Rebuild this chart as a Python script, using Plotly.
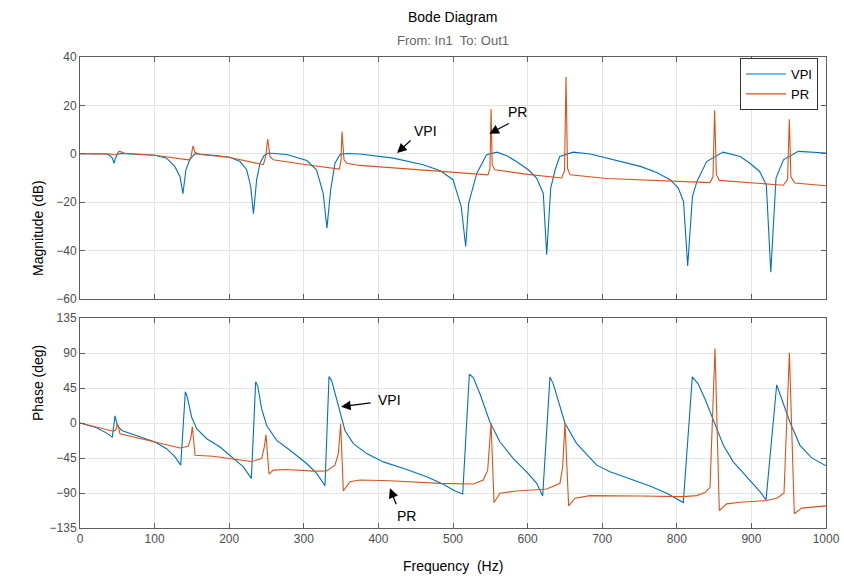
import plotly.graph_objects as go
from plotly.subplots import make_subplots

# ---------------- data ----------------
# (frequency Hz, magnitude dB)
vpi_mag = [(0, 0), (36, -0.1), (40, -0.7), (43.3, -1.8), (45.6, -3.9), (47.4, -1.8), (50, -0.3), (54, 0.1),
           (100, -0.6), (116, -1.8), (127, -5.2), (134, -9.4), (138, -16.5), (142, -6.6), (147.5, -2.2), (154, 0),
           (179, -0.6), (201, -1.4), (214.5, -3.2), (223.4, -6.6), (228.8, -13.5), (232.5, -24.8), (236.8, -10.7),
           (241.3, -3.9), (246.6, -0.8), (252.5, 0.3), (277, -0.3), (304, -2.8), (317, -6.6), (326, -16.3),
           (331, -30.7), (336, -14.9), (341.8, -3.9), (348.5, -0.3), (357.5, 0.1), (375, -0.1), (420, -1.8),
           (460, -4.5), (483, -7.0), (500, -10.7), (511, -21.8), (517, -38.3), (521, -20.4), (532, -8),
           (545, -0.4), (559, 0.7), (572, -0.8), (585, -3.2), (601, -6.6), (612, -10), (621, -16.3),
           (625.6, -41.7), (631, -14.2), (637, -6.6), (643, -1.1), (661, 0.7), (684, -0.1), (706, -1.8),
           (751, -5.2), (773, -7.7), (791, -10.7), (802, -14.2), (809, -19.7), (814.6, -46.3), (821, -17.6),
           (827, -11.4), (840, -3.2), (862, 0.7), (885, -1.1), (898, -3.9), (911, -7.3), (920, -12.8),
           (926, -48.9), (933, -10), (943, -2.5), (963, 1.0), (1000, 0.3)]

pr_mag = [(0, 0), (40, -0.1), (47, -0.5), (49.2, -0.3), (52.3, 1.1), (55.9, 0.6), (60, 0.2), (100.5, -0.6),
          (145.2, -2.5), (148.3, -2.0), (151.5, 3.3), (154.2, 0.6), (160.9, -0.3), (201, -1.5), (245.8, -4.5),
          (248.9, -1.1), (251.6, 6.1), (254.7, -1.1), (259, -2.5), (303.8, -4.5), (347.6, -6.3), (349.9, -2.5),
          (351.2, 9.2), (353.9, -2.5), (357.5, -3.9), (375, -4.8), (420, -5.8), (483, -7.0), (509, -7.7),
          (547, -8.7), (549.5, -6), (551, 18.5), (552.5, -4.5), (556, -6.6), (600, -8.5), (645.7, -10),
          (649.5, -7), (651.5, 31.8), (653.5, -6), (657, -8.7), (706, -10.2), (844.5, -11.9), (848.5, -9.5),
          (850.7, 17.9), (853, -8.5), (857, -11), (942.8, -13), (948.5, -10.5), (950.8, 14.3), (953, -9.5),
          (958, -12.1), (1000, -13.2)]

# (frequency Hz, phase deg)
vpi_phase = [(0, 0), (22.3, -6.2), (35.7, -13), (43.3, -18.1), (46.9, 9.1), (50, -3.2), (55.9, -9.6), (71.5, -14.7),
             (100.5, -24.5), (116, -33), (127.3, -43.6), (135, -54.2), (141.2, 40.2), (143.9, 32.9), (149.7, 7.4),
             (156.4, -7.4), (169.8, -20.2), (187.7, -30.9), (205.5, -44.9), (219, -56.4), (229.7, -71.2),
             (235.5, 52.9), (238.2, 47.8), (243.5, 18.1), (250.2, -3.2), (263.6, -22.3), (281.5, -35.1),
             (303.8, -52.1), (317.2, -64.8), (328.4, -80.6), (333.8, 59.7), (337.4, 54.2), (344, 30.8),
             (350.8, 7.4), (355.2, -9.6), (366.4, -26.5), (384.3, -39.3), (406.6, -50), (437.9, -59.7),
             (464.7, -69.1), (487, -78.8), (502.7, -87.4), (513, -91.2), (521.9, 62.7), (527.2, 58.4),
             (536.2, 37.2), (549.6, 1), (563, -24.5), (580.8, -45.7), (598.7, -62.8), (612.2, -77.6),
             (620.2, -93.8), (630, 59.3), (634.5, 50), (650.1, -0.3), (665.8, -26.5), (683.6, -45.7),
             (692.6, -54.2), (710.5, -62.8), (737.3, -72.1), (764, -81), (786.5, -90.3), (808.7, -102.3),
             (820.8, 59.3), (828.8, 50), (837.8, 30.8), (849, 3.2), (862.4, -28.7), (875.7, -50), (893.7, -69.1),
             (911.5, -88.3), (919.6, -98.9), (933.9, 49.1), (940.6, 30.8), (951.7, 1), (965.1, -28.7),
             (980.8, -44.9), (1000, -55.1)]

pr_phase = [(0, 0), (22.3, -5.5), (44.7, -10.5), (47.8, -9), (50.5, -1), (53.6, -13.8), (71.5, -18.1), (100.5, -24.5),
            (134, -32.1), (145.2, -30), (148.8, -18.1), (150.6, -4.5), (154.2, -41.5), (178.7, -42.7), (210, -47),
            (230, -49.5), (243.5, -45.7), (247, -30.9), (249.3, -15), (253.4, -65.7), (259, -60.6), (277, -59.7),
            (312.8, -61.9), (330.7, -61.7), (341.8, -54.2), (346.3, -39.3), (349.4, -1), (353, -87.4),
            (362, -75.5), (375.3, -73.3), (415.5, -74.2), (482.6, -77.6), (527.2, -78.4), (540.6, -73.3),
            (546.5, -60.6), (551, 0), (555, -102.3), (563, -90.3), (585.4, -87.4), (625.6, -84.8), (643.4, -77.6),
            (647, -56.4), (650.1, 0), (655, -106.5), (663.5, -96.7), (683.6, -93.4), (750.7, -93.8),
            (808.7, -94.6), (826.7, -93.4), (837.8, -89.5), (844.5, -82.7), (851.2, 95.9), (857, -112.5),
            (866.8, -104), (884.7, -101.8), (920.4, -99.7), (933.9, -96.7), (943.7, -90.3), (950.9, 90.3),
            (957.5, -116.7), (967.4, -109.4), (1000, -106.5)]

x_ticks = [0, 100, 200, 300, 400, 500, 600, 700, 800, 900, 1000]
mag_ticks = [40, 20, 0, -20, -40, -60]
ph_ticks = [135, 90, 45, 0, -45, -90, -135]

# ---------------- style ----------------
BLUE = "#0072BD"
ORANGE = "#D95319"
AXC = "#5e5e5e"
GRID = "#e4e4e4"
TICKC = "#4d4d4d"
FONT = "Liberation Sans, Arial, sans-serif"

def xs(pts):
    return [p[0] for p in pts]

def ys(pts):
    return [p[1] for p in pts]

fig = make_subplots(rows=2, cols=1, shared_xaxes=True)

fig.add_trace(go.Scatter(x=xs(vpi_mag), y=ys(vpi_mag), mode="lines", name="VPI",
                         line=dict(color=BLUE, width=1.1)), row=1, col=1)
fig.add_trace(go.Scatter(x=xs(pr_mag), y=ys(pr_mag), mode="lines", name="PR",
                         line=dict(color=ORANGE, width=1.1)), row=1, col=1)
fig.add_trace(go.Scatter(x=xs(vpi_phase), y=ys(vpi_phase), mode="lines", name="VPI", showlegend=False,
                         line=dict(color=BLUE, width=1.1)), row=2, col=1)
fig.add_trace(go.Scatter(x=xs(pr_phase), y=ys(pr_phase), mode="lines", name="PR", showlegend=False,
                         line=dict(color=ORANGE, width=1.1)), row=2, col=1)

# full-viewport figure; the page body margin is removed by a small post script
W, H = 844, 579
AX_L, AX_R, AX_T, AX_B = 80, 826, 57, 528
L, T, R, B = AX_L, AX_T, W - AX_R, H - AX_B
plot_h = AX_B - AX_T
top_dom = [(AX_B - 299) / plot_h, 1.0]
bot_dom = [0.0, (AX_B - 318) / plot_h]

axis_common = dict(showline=True, linecolor=AXC, linewidth=1, mirror="ticks", ticks="inside",
                   ticklen=5, tickcolor=AXC, showgrid=True, gridcolor=GRID, gridwidth=1,
                   zeroline=False, automargin=False, tickfont=dict(family=FONT, size=12, color=TICKC))

fig.update_xaxes(range=[0, 1000], tickvals=x_ticks, **axis_common)
fig.update_xaxes(showticklabels=False, row=1, col=1)
fig.update_xaxes(ticktext=[str(v) for v in x_ticks], row=2, col=1)
fig.update_yaxes(**axis_common)
fig.update_yaxes(range=[-60, 40], tickvals=mag_ticks, domain=top_dom, row=1, col=1)
fig.update_yaxes(range=[-135, 135], tickvals=ph_ticks, domain=bot_dom, row=2, col=1)

def py(pix):
    return (AX_B - pix) / plot_h

def px(pix):
    return (pix - AX_L) / (AX_R - AX_L)

annos = [
    dict(text="Bode Diagram", x=0.5, y=py(17), xref="paper", yref="paper", showarrow=False,
         font=dict(family=FONT, size=14, color="#000000"), yanchor="middle"),
    dict(text="From: In1\u00a0\u00a0To: Out1", x=0.5, y=py(40), xref="paper", yref="paper", showarrow=False,
         font=dict(family=FONT, size=13, color="#666666"), yanchor="middle"),
    dict(text="Magnitude (dB)", x=px(28), y=py(178), xref="paper", yref="paper", showarrow=False,
         textangle=-90, font=dict(family=FONT, size=14, color="#000000")),
    dict(text="Phase (deg)", x=px(28), y=py(423), xref="paper", yref="paper", showarrow=False,
         textangle=-90, font=dict(family=FONT, size=14, color="#000000")),
    dict(text="Frequency\u00a0\u00a0(Hz)", x=0.5, y=py(566), xref="paper", yref="paper", showarrow=False,
         font=dict(family=FONT, size=14, color="#000000"), yanchor="middle"),
]

arrow_style = dict(showarrow=True, arrowhead=2, arrowsize=1.6, arrowwidth=1.2, arrowcolor="#000000",
                   text=" ", font=dict(size=1))
annos += [
    dict(x=425, y=0.3, xref="x", yref="y", ax=15, ay=-14, **arrow_style),
    dict(x=548.7, y=8.3, xref="x", yref="y", ax=21, ay=-11, **arrow_style),
    dict(x=349.9, y=21, xref="x2", yref="y2", ax=31, ay=-4, **arrow_style),
    dict(x=415.5, y=-83.9, xref="x2", yref="y2", ax=7, ay=18, **arrow_style),
]
lab_font = dict(family=FONT, size=14, color="#000000")
annos += [
    dict(text="VPI", x=463.8, y=9.5, xref="x", yref="y", showarrow=False, font=lab_font),
    dict(text="PR", x=585.8, y=17.4, xref="x", yref="y", showarrow=False, font=lab_font),
    dict(text="VPI", x=414.9, y=30, xref="x2", yref="y2", showarrow=False, font=lab_font),
    dict(text="PR", x=437, y=-119, xref="x2", yref="y2", showarrow=False, font=lab_font),
]

fig.update_layout(
    width=W, height=H, autosize=False,
    margin=dict(l=L, r=R, t=T, b=B, autoexpand=False),
    paper_bgcolor="#ffffff", plot_bgcolor="#ffffff",
    font=dict(family=FONT, size=13, color="#000000"),
    annotations=annos,
    showlegend=True,
    legend=dict(x=px(818), y=py(58), xanchor="right", yanchor="top",
                bgcolor="#ffffff", bordercolor="#333333", borderwidth=1,
                font=dict(family=FONT, size=13, color="#000000"),
                tracegroupgap=0, itemwidth=40),
)

fig.write_html("out.html", config={"displayModeBar": False},
               post_script="document.body.style.margin='0';document.body.style.overflow='hidden';")
